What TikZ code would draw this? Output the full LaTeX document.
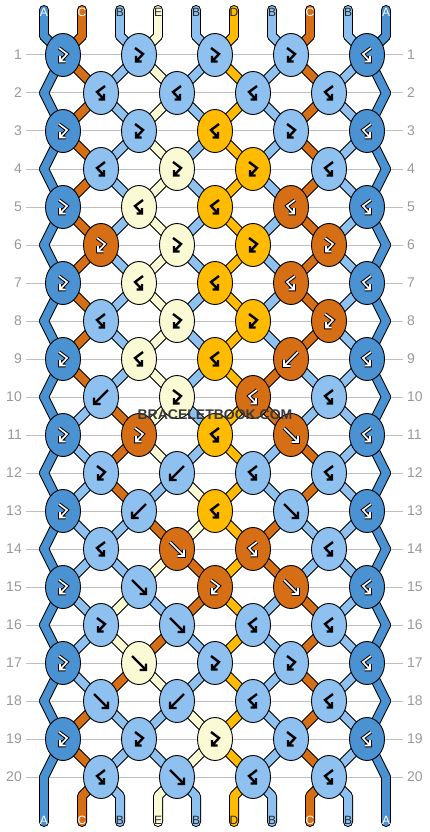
\documentclass[tikz,border=0pt]{standalone}
\usepackage{fontspec}
\setmainfont{Liberation Sans}
\usetikzlibrary{shapes.geometric}

\definecolor{colA}{RGB}{74,146,210}
\definecolor{colB}{RGB}{142,192,240}
\definecolor{colC}{RGB}{213,110,20}
\definecolor{colD}{RGB}{255,187,0}
\definecolor{colE}{RGB}{250,250,212}

\pgfdeclarelayer{grid}
\pgfdeclarelayer{edge}
\pgfdeclarelayer{strand}
\pgfsetlayers{grid,edge,strand,main}

% glyph paths (knot centre = origin)
\def\pathF{(-7,-7) -- (7,7) (7,0.5) -- (7,7) -- (0.5,7)}
\def\pathB{(7,-7) -- (-7,7) (-7,0.5) -- (-7,7) -- (-0.5,7)}
\def\pathP{(-4,-7) -- (4,-1) -- (-3,6.5) (-3,1) -- (-3,6.5) -- (2.5,6.5)}
\def\pathQ{(4,-7) -- (-4,-1) -- (3,6.5) (3,1) -- (3,6.5) -- (-2.5,6.5)}

\tikzset{
  knot/.style={ellipse, draw=black, line width=0.9pt, minimum width=35pt,
    minimum height=43pt, inner sep=0pt},
  threadedge/.style={draw=black, line width=10pt, line cap=round, line join=round},
  thread/.style={line width=8pt, line cap=round, line join=round},
  gridline/.style={draw=black!25, line width=1pt},
  rownum/.style={text=black!40, font=\fontsize{14}{14}\selectfont, inner sep=4pt},
  endlabel/.style={font=\fontsize{12}{12}\selectfont, inner sep=0pt},
  endlabel A/.style={text=white}, endlabel C/.style={text=white},
  endlabel B/.style={text=black!85}, endlabel D/.style={text=black!85},
  endlabel E/.style={text=black!85},
  watermark/.style={text=black!78, font=\bfseries\fontsize{14}{14}\selectfont},
  glyph/.style={line cap=butt, line join=miter},
  glyph under A/.style={draw=black, line width=3.6pt},
  glyph ink A/.style={draw=white, line width=1.6pt},
  glyph under C/.style={draw=black, line width=3.6pt},
  glyph ink C/.style={draw=white, line width=1.6pt},
  glyph under B/.style={draw=none}, glyph ink B/.style={draw=black, line width=2.4pt},
  glyph under D/.style={draw=none}, glyph ink D/.style={draw=black, line width=2.4pt},
  glyph under E/.style={draw=none}, glyph ink E/.style={draw=black, line width=2.4pt}
}

\begin{document}
\begin{tikzpicture}[x=1pt,y=-1pt]
  \useasboundingbox (0,0) rectangle (430,832);

  % row lines and numbers
  \begin{pgfonlayer}{grid}
    \fill[white] (0,0) rectangle (430,832);
    \foreach \row in {1,...,20}{
      \pgfmathsetmacro\ky{55+38*(\row-1)}
      \node[rownum, anchor=east] (numL\row) at (26,\ky) {\row};
      \node[rownum, anchor=west] (numR\row) at (403,\ky) {\row};
      \draw[gridline] (numL\row.east) -- (numR\row.west);
    }
  \end{pgfonlayer}

  % strings at the top
  \foreach \p/\c in {0/A,1/C,2/B,3/E,4/B,5/D,6/B,7/C,8/B,9/A}{
    \expandafter\xdef\csname s\p\endcsname{\c}
    \expandafter\xdef\csname prev\p\endcsname{top\p}
    \coordinate (tip\p) at (44+38*\p,10);
    \coordinate (top\p) at (44+38*\p,36);
    \begin{pgfonlayer}{edge}
      \draw[threadedge] (tip\p) -- (top\p);
    \end{pgfonlayer}
    \begin{pgfonlayer}{strand}
      \draw[thread, draw=col\c] (tip\p) -- (top\p);
    \end{pgfonlayer}
    \node[endlabel, endlabel \c] (lblT\p) at (44+38*\p,12) {\c};
  }

  % knots, row by row (P = forward-backward, Q = backward-forward)
  \foreach \row/\types in {1/{P,P,P,P,Q},2/{Q,Q,Q,Q},3/{P,P,Q,P,Q},4/{Q,P,P,Q},
      5/{P,Q,Q,Q,Q},6/{P,P,P,P},7/{P,Q,Q,Q,Q},8/{Q,P,P,P},9/{P,Q,Q,B,Q},
      10/{B,P,Q,Q},11/{P,P,Q,F,Q},12/{P,B,Q,Q},13/{P,B,Q,F,Q},14/{Q,F,Q,Q},
      15/{P,F,P,F,Q},16/{P,F,Q,Q},17/{P,F,P,P,Q},18/{F,B,Q,Q},19/{P,P,P,P,Q},
      20/{Q,F,Q,Q}}{
    \pgfmathtruncatemacro\odd{mod(\row,2)}
    \pgfmathsetmacro\ky{55+38*(\row-1)}
    \foreach \kt [count=\kn] in \types {
      \pgfmathtruncatemacro\posL{\odd==1 ? 2*\kn-2 : 2*\kn-1}
      \pgfmathtruncatemacro\posR{\posL+1}
      \edef\strL{\csname s\posL\endcsname}
      \edef\strR{\csname s\posR\endcsname}
      \edef\prevL{\csname prev\posL\endcsname}
      \edef\prevR{\csname prev\posR\endcsname}
      \edef\kc{\if P\kt\strL\else\if F\kt\strL\else\strR\fi\fi}
      \node[knot, fill=col\kc] (k\row-\kn) at (63+38*\posL,\ky) {};
      \edef\gp{\csname path\kt\endcsname}
      \begin{scope}[shift={(k\row-\kn.center)}]
        \edef\doglyph{\noexpand\draw[glyph, glyph under \kc] \gp;
          \noexpand\draw[glyph, glyph ink \kc] \gp;}
        \doglyph
      \end{scope}
      \begin{pgfonlayer}{edge}
        \draw[threadedge] (\prevL.center) -- (k\row-\kn.center);
        \draw[threadedge] (\prevR.center) -- (k\row-\kn.center);
      \end{pgfonlayer}
      \begin{pgfonlayer}{strand}
        \draw[thread, draw=col\strL] (\prevL.center) -- (k\row-\kn.center);
        \draw[thread, draw=col\strR] (\prevR.center) -- (k\row-\kn.center);
      \end{pgfonlayer}
      \expandafter\xdef\csname prev\posL\endcsname{k\row-\kn}
      \expandafter\xdef\csname prev\posR\endcsname{k\row-\kn}
      \if P\kt\else\if Q\kt\else
        \expandafter\xdef\csname s\posL\endcsname{\strR}
        \expandafter\xdef\csname s\posR\endcsname{\strL}
      \fi\fi
    }
    % outer strings bend out on even rows
    \ifnum\odd=0\relax
      \foreach \p in {0,9}{
        \edef\prevE{\csname prev\p\endcsname}
        \edef\strE{\csname s\p\endcsname}
        \coordinate (e\row-\p) at (44+38*\p,\ky);
        \begin{pgfonlayer}{edge}
          \draw[threadedge] (\prevE.center) -- (e\row-\p);
        \end{pgfonlayer}
        \begin{pgfonlayer}{strand}
          \draw[thread, draw=col\strE] (\prevE.center) -- (e\row-\p);
        \end{pgfonlayer}
        \expandafter\xdef\csname prev\p\endcsname{e\row-\p}
      }
    \fi
  }

  % strings at the bottom
  \foreach \p in {0,...,9}{
    \edef\prevE{\csname prev\p\endcsname}
    \edef\strE{\csname s\p\endcsname}
    \coordinate (bot\p) at (44+38*\p,796);
    \coordinate (end\p) at (44+38*\p,822);
    \begin{pgfonlayer}{edge}
      \draw[threadedge] (\prevE.center) -- (bot\p) -- (end\p);
    \end{pgfonlayer}
    \begin{pgfonlayer}{strand}
      \draw[thread, draw=col\strE] (\prevE.center) -- (bot\p) -- (end\p);
    \end{pgfonlayer}
    \node[endlabel, endlabel \strE] (lblB\p) at (44+38*\p,820) {\strE};
  }

  \node[watermark] (brand) at (215,415) {BRACELETBOOK.COM};
\end{tikzpicture}
\end{document}
